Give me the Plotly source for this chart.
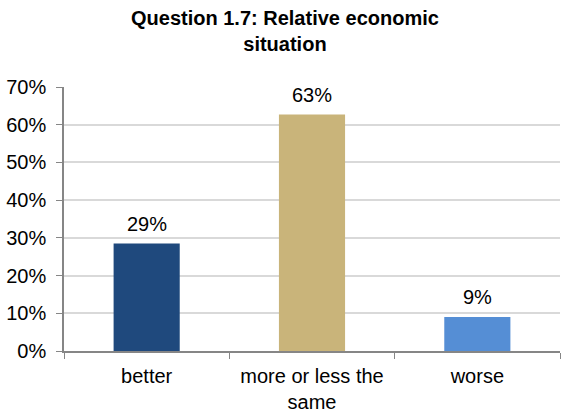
import plotly.graph_objects as go

categories = ["better", "more or less the<br>same", "worse"]
values = [28.5, 62.7, 9.0]
labels = ["29%", "63%", "9%"]
colors = ["#1F497D", "#C9B47A", "#558ED5"]
yticks = [0, 10, 20, 30, 40, 50, 60, 70]

FONT = "Liberation Sans, Arial, sans-serif"

fig = go.Figure()
fig.add_trace(go.Bar(x=categories, y=values, marker=dict(color=colors, line=dict(width=0)),
                     width=0.4, hoverinfo="skip"))

for c, v, t in zip(categories, values, labels):
    fig.add_annotation(x=c, y=v, text=t, showarrow=False, yanchor="bottom", yshift=7,
                       font=dict(family=FONT, size=20, color="#000000"))

fig.add_annotation(xref="paper", yref="paper", x=0.445, y=1.31, xanchor="center", yanchor="top",
                   text="<b>Question 1.7: Relative economic<br>situation</b>", showarrow=False,
                   font=dict(family=FONT, size=20, color="#000000"))

fig.update_layout(
    width=561, height=414,
    margin=dict(l=64, r=1, t=87, b=61),
    paper_bgcolor="white", plot_bgcolor="white",
    showlegend=False,
    font=dict(family=FONT, size=20, color="#000000"),
)
fig.update_xaxes(showline=True, linecolor="#868686", linewidth=1.5,
                 ticks="outside", tickson="boundaries", ticklen=6, tickcolor="#868686",
                 tickfont=dict(family=FONT, size=20, color="#000000"),
                 ticklabelstandoff=6,
                 showgrid=False, range=[-0.5, 2.5])
fig.update_yaxes(range=[0, 70], tickvals=yticks, ticktext=[f"{v}%" for v in yticks],
                 showline=True, linecolor="#868686", linewidth=1.5,
                 ticks="outside", ticklen=6, tickcolor="#868686",
                 showgrid=True, gridcolor="#D9D9D9", gridwidth=1.5,
                 tickfont=dict(family=FONT, size=20, color="#000000"),
                 ticklabelstandoff=6,
                 zeroline=False)

fig.write_html("out.html")
